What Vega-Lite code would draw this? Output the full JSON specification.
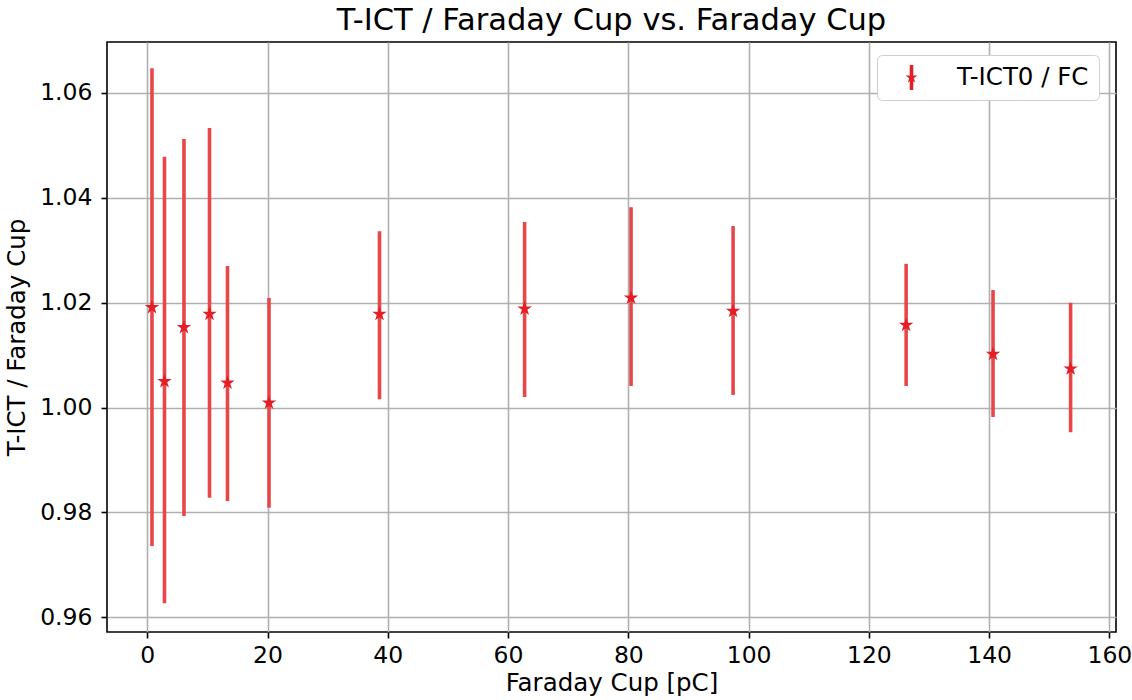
{
  "$schema": "https://vega.github.io/schema/vega-lite/v6.json",
  "width": 1009,
  "height": 590,
  "autosize": {"type": "none"},
  "padding": {"left": 107, "top": 42, "right": 16, "bottom": 68},
  "background": "white",
  "title": {
    "text": "T-ICT / Faraday Cup vs. Faraday Cup",
    "font": "DejaVu Sans",
    "fontSize": 30.5,
    "fontWeight": "normal",
    "color": "#000000",
    "anchor": "middle",
    "baseline": "alphabetic",
    "offset": -18
  },
  "data": {
    "values": [
      {"series": "T-ICT0 / FC", "fc": 0.78, "ratio": 1.0191, "low": 0.9736, "high": 1.0647},
      {"series": "T-ICT0 / FC", "fc": 2.86, "ratio": 1.0050, "low": 0.9627, "high": 1.0478},
      {"series": "T-ICT0 / FC", "fc": 6.10, "ratio": 1.0153, "low": 0.9793, "high": 1.0512},
      {"series": "T-ICT0 / FC", "fc": 10.35, "ratio": 1.0178, "low": 0.9828, "high": 1.0533},
      {"series": "T-ICT0 / FC", "fc": 13.34, "ratio": 1.0047, "low": 0.9822, "high": 1.0270},
      {"series": "T-ICT0 / FC", "fc": 20.24, "ratio": 1.0009, "low": 0.9809, "high": 1.0209},
      {"series": "T-ICT0 / FC", "fc": 38.62, "ratio": 1.0178, "low": 1.0016, "high": 1.0336},
      {"series": "T-ICT0 / FC", "fc": 62.75, "ratio": 1.0188, "low": 1.0020, "high": 1.0354},
      {"series": "T-ICT0 / FC", "fc": 80.45, "ratio": 1.0209, "low": 1.0041, "high": 1.0382},
      {"series": "T-ICT0 / FC", "fc": 97.42, "ratio": 1.0184, "low": 1.0024, "high": 1.0346},
      {"series": "T-ICT0 / FC", "fc": 126.2, "ratio": 1.0157, "low": 1.0041, "high": 1.0274},
      {"series": "T-ICT0 / FC", "fc": 140.65, "ratio": 1.0102, "low": 0.9982, "high": 1.0224},
      {"series": "T-ICT0 / FC", "fc": 153.55, "ratio": 1.0074, "low": 0.9953, "high": 1.0200}
    ]
  },
  "config": {
    "view": {"stroke": "#000000", "strokeWidth": 1.6},
    "axis": {
      "domain": false,
      "grid": true,
      "gridColor": "#b0b0b0",
      "gridWidth": 1.6,
      "ticks": true,
      "tickColor": "#000000",
      "tickSize": 6,
      "tickWidth": 1.6,
      "labelFont": "DejaVu Sans",
      "labelFontSize": 23.5,
      "labelColor": "#000000",
      "titleFont": "DejaVu Sans",
      "titleFontSize": 24.5,
      "titleFontWeight": "normal",
      "titleColor": "#000000"
    }
  },
  "layer": [
    {
      "mark": {"type": "rule", "color": "#e8474a", "strokeWidth": 3.6},
      "encoding": {
        "x": {
          "field": "fc",
          "type": "quantitative",
          "scale": {"domain": [-6.7, 161.1], "nice": false, "zero": false},
          "axis": {
            "values": [0, 20, 40, 60, 80, 100, 120, 140, 160],
            "title": "Faraday Cup [pC]",
            "labelPadding": 5,
            "titlePadding": 5
          }
        },
        "y": {
          "field": "low",
          "type": "quantitative",
          "scale": {"domain": [0.9572, 1.0697], "nice": false, "zero": false},
          "axis": {
            "values": [0.96, 0.98, 1.0, 1.02, 1.04, 1.06],
            "format": ".2f",
            "title": "T-ICT / Faraday Cup",
            "labelPadding": 9,
            "titlePadding": 10
          }
        },
        "y2": {"field": "high"}
      }
    },
    {
      "mark": {
        "type": "point",
        "shape": "M0,-1L0.225,-0.309L0.951,-0.309L0.363,0.118L0.588,0.809L0,0.382L-0.588,0.809L-0.363,0.118L-0.951,-0.309L-0.225,-0.309Z",
        "filled": true,
        "size": 230,
        "opacity": 1
      },
      "encoding": {
        "x": {"field": "fc", "type": "quantitative"},
        "y": {"field": "ratio", "type": "quantitative"},
        "color": {
          "field": "series",
          "type": "nominal",
          "scale": {"range": ["#e31e24"]},
          "legend": {
            "title": null,
            "orient": "none",
            "legendX": 770,
            "legendY": 13,
            "padding": 10,
            "strokeColor": "#d0d0d0",
            "fillColor": "#ffffff",
            "cornerRadius": 5,
            "symbolType": "M-0.14,-1H0.14V1H-0.14Z M0,-0.5L0.112,-0.154L0.476,-0.155L0.181,0.059L0.294,0.405L0,0.19L-0.294,0.405L-0.181,0.059L-0.476,-0.155L-0.112,-0.154Z",
            "symbolSize": 625,
            "symbolOffset": 12,
            "symbolStrokeWidth": 0,
            "labelOffset": 33,
            "labelFont": "DejaVu Sans",
            "labelFontSize": 24.5,
            "labelColor": "#000000"
          }
        }
      }
    }
  ]
}
